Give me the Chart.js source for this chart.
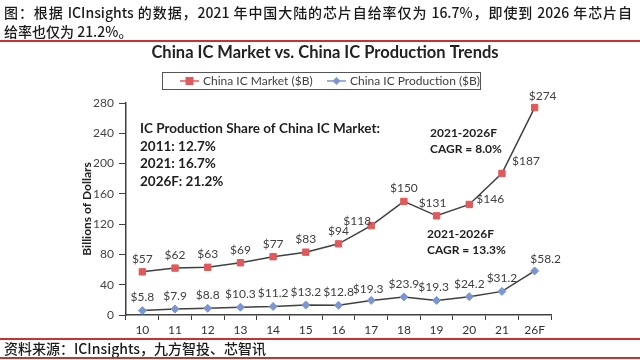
<!DOCTYPE html>
<html>
<head>
<meta charset="utf-8">
<script src="https://cdn.jsdelivr.net/npm/chart.js@4.4.1/dist/chart.umd.min.js"></script>
<style>
  html, body { margin: 0; padding: 0; background: #fff; }
  #wrap { position: relative; width: 640px; height: 360px; overflow: hidden; }
  #chart { position: absolute; left: 0; top: 0; }
  .cap { position: absolute; left: 4px; width: 628px; font-family: "Noto Sans CJK SC", sans-serif; font-size: 14px; font-weight: 500; color: #1a1a1a; line-height: 19px; white-space: nowrap; }
  #line1 { top: 3px; text-align: justify; text-align-last: justify; }
  #line2 { top: 22px; }
  #source { top: 339px; }
  .rule { position: absolute; left: 0; width: 640px; height: 2px; background: #c8322f; }
</style>
</head>
<body>
<div id="wrap">
  <canvas id="chart" width="640" height="360"></canvas>
  <div class="cap" id="line1">图：根据 ICInsights 的数据，2021 年中国大陆的芯片自给率仅为 16.7%，即使到 2026 年芯片自</div>
  <div class="cap" id="line2">给率也仅为 21.2%。</div>
  <div class="rule" style="top:40px"></div>
  <div class="rule" style="top:338px"></div>
  <div class="cap" id="source">资料来源：ICInsights，九方智投、芯智讯</div>
  <div class="rule" style="top:357px"></div>
</div>
<script>
const years = ['10', '11', '12', '13', '14', '15', '16', '17', '18', '19', '20', '21', '26F'];
const marketValues = [57, 62, 63, 69, 77, 83, 94, 118, 150, 131, 146, 187, 274];
const productionValues = [5.8, 7.9, 8.8, 10.3, 11.2, 13.2, 12.8, 19.3, 23.9, 19.3, 24.2, 31.2, 58.2];
const yMax = 280;
const yStep = 40;

const chartTitle = 'China IC Market vs. China IC Production Trends';
const shareLines = ['IC Production Share of China IC Market:', '2011: 12.7%', '2021: 16.7%', '2026F: 21.2%'];
const marketCagr = ['2021-2026F', 'CAGR = 8.0%'];
const productionCagr = ['2021-2026F', 'CAGR = 13.3%'];

const FONT = 'Lato, "Open Sans", sans-serif';
const RED = '#e05a5c';
const BLUE = '#7b96d2';
const INK = '#404040';

// small nudges for labels that sit beside their point instead of above it
const marketNudge = { 7: [-14, 8], 9: [-4, 0], 10: [21, 8], 11: [24, 1], 12: [8, 2] };
const productionNudge = { 7: [-3, 2], 9: [-3, 0], 12: [11, 1] };

function drawMarker(ctx, style, x, y, color) {
  ctx.fillStyle = color;
  ctx.beginPath();
  if (style === 'rect') {
    ctx.rect(x - 4, y - 4, 8, 8);
  } else {
    ctx.moveTo(x, y - 4);
    ctx.lineTo(x + 4, y);
    ctx.lineTo(x, y + 4);
    ctx.lineTo(x - 4, y);
    ctx.closePath();
  }
  ctx.fill();
}

const extras = {
  id: 'extras',
  afterDatasetsDraw(chart) {
    const ctx = chart.ctx;
    ctx.save();

    // point labels
    ctx.font = `12px ${FONT}`;
    ctx.fillStyle = INK;
    ctx.textAlign = 'center';
    ctx.textBaseline = 'middle';
    chart.data.datasets.forEach((ds, di) => {
      const nudge = di === 0 ? marketNudge : productionNudge;
      chart.getDatasetMeta(di).data.forEach((pt, i) => {
        const v = ds.data[i];
        const text = '$' + (di === 0 ? String(v) : v.toFixed(1));
        const [dx, dy] = nudge[i] || [0, 0];
        ctx.fillText(text, pt.x + dx, pt.y - 13 + dy);
      });
    });

    // title
    ctx.font = `bold 16.5px ${FONT}`;
    ctx.fillStyle = '#222';
    ctx.fillText(chartTitle, 325, 53);

    // legend box
    ctx.strokeStyle = '#555';
    ctx.lineWidth = 1;
    ctx.strokeRect(162.5, 72.5, 318, 17);
    const entries = [
      { x: 180, text: chart.data.datasets[0].label, color: RED, style: 'rect' },
      { x: 327, text: chart.data.datasets[1].label, color: BLUE, style: 'rectRot' }
    ];
    ctx.font = `12px ${FONT}`;
    ctx.textAlign = 'left';
    entries.forEach((e) => {
      ctx.strokeStyle = e.color;
      ctx.lineWidth = 1.5;
      ctx.beginPath();
      ctx.moveTo(e.x, 81);
      ctx.lineTo(e.x + 19, 81);
      ctx.stroke();
      drawMarker(ctx, e.style, e.x + 9.5, 81, e.color);
      ctx.fillStyle = INK;
      ctx.fillText(e.text, e.x + 23, 81.5);
    });

    // notes
    ctx.font = `bold 13.5px ${FONT}`;
    ctx.fillStyle = '#1e1e1e';
    shareLines.forEach((t, i) => ctx.fillText(t, 140, 129 + i * 17.5));
    ctx.font = `bold 12px ${FONT}`;
    marketCagr.forEach((t, i) => ctx.fillText(t, 430, 133 + i * 16));
    productionCagr.forEach((t, i) => ctx.fillText(t, 427, 234 + i * 16));

    ctx.restore();
  }
};

new Chart(document.getElementById('chart'), {
  type: 'line',
  data: {
    labels: years,
    datasets: [
      {
        label: 'China IC Market ($B)',
        data: marketValues,
        borderColor: INK,
        borderWidth: 1.5,
        tension: 0,
        pointStyle: 'rect',
        pointRadius: 4.5,
        pointBackgroundColor: RED,
        pointBorderColor: RED,
        pointBorderWidth: 1
      },
      {
        label: 'China IC Production ($B)',
        data: productionValues,
        borderColor: INK,
        borderWidth: 1.5,
        tension: 0,
        pointStyle: 'rectRot',
        pointRadius: 4,
        pointBackgroundColor: BLUE,
        pointBorderColor: BLUE,
        pointBorderWidth: 1
      }
    ]
  },
  options: {
    responsive: false,
    animation: false,
    layout: {
      padding: { left: 78, right: 89, top: 103, bottom: 22 }
    },
    plugins: {
      legend: { display: false },
      title: { display: false },
      tooltip: { enabled: false }
    },
    scales: {
      x: {
        offset: true,
        afterFit: (s) => { s.height = 23; },
        border: { color: INK, width: 1.5 },
        grid: {
          offset: true,
          drawOnChartArea: false,
          drawTicks: true,
          tickLength: 5,
          color: INK
        },
        ticks: {
          color: '#333',
          padding: 3,
          font: { family: FONT, size: 12 }
        }
      },
      y: {
        min: 0,
        max: yMax,
        afterFit: (s) => { s.width = 48; },
        border: { color: INK, width: 1.5 },
        grid: {
          drawOnChartArea: false,
          drawTicks: true,
          tickLength: 7,
          color: INK
        },
        ticks: {
          stepSize: yStep,
          color: '#444',
          padding: 5,
          font: { family: FONT, size: 12 }
        },
        title: {
          display: true,
          text: 'Billions of Dollars',
          color: '#222',
          padding: { top: 2, bottom: 0 },
          font: { family: FONT, size: 12, weight: 'bold' }
        }
      }
    }
  },
  plugins: [extras]
});
</script>
</body>
</html>
